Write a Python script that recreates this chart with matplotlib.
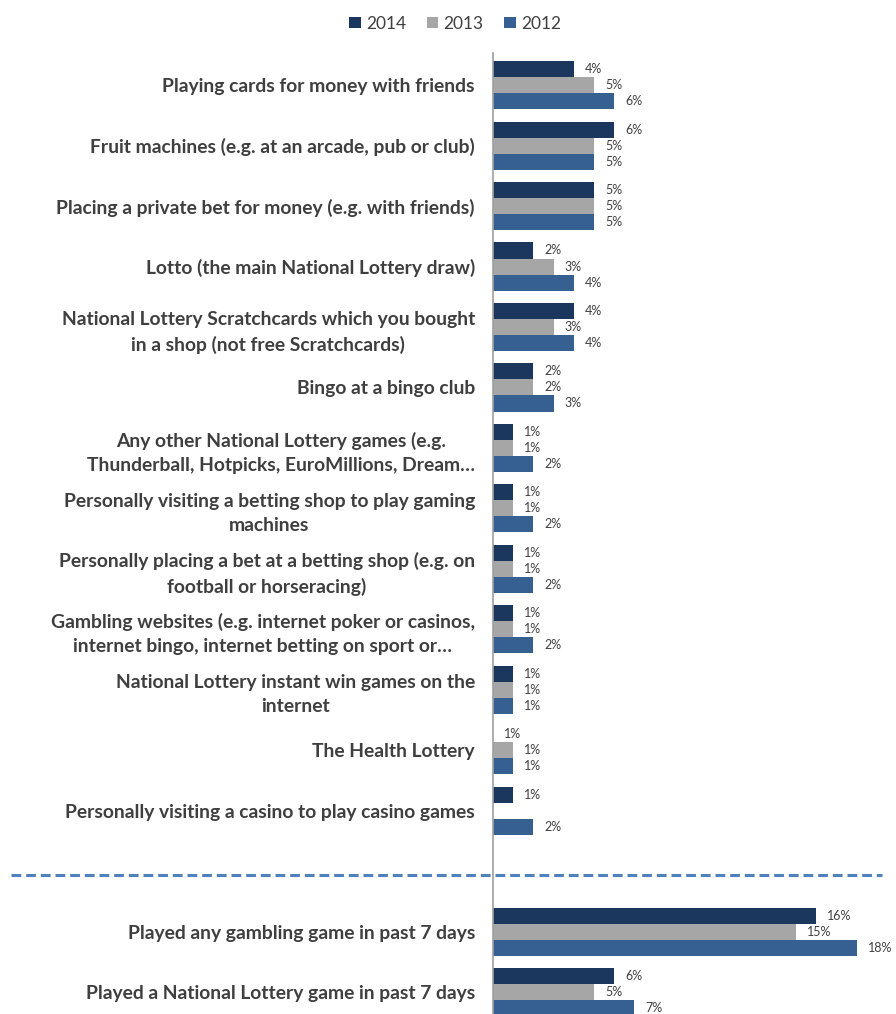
import numpy as np
import matplotlib.pyplot as plt
from matplotlib.lines import Line2D

plt.rcParams['font.family'] = ['Lato', 'DejaVu Sans']

# categories, top to bottom
categories = [
    "Playing cards for money with friends",
    "Fruit machines (e.g. at an arcade, pub or club)",
    "Placing a private bet for money (e.g. with friends)",
    "Lotto (the main National Lottery draw)",
    "National Lottery Scratchcards which you bought\nin a shop (not free Scratchcards)",
    "Bingo at a bingo club",
    "Any other National Lottery games (e.g.\nThunderball, Hotpicks, EuroMillions, Dream\u2026",
    "Personally visiting a betting shop to play gaming\nmachines",
    "Personally placing a bet at a betting shop (e.g. on\nfootball or horseracing)",
    "Gambling websites (e.g. internet poker or casinos,\ninternet bingo, internet betting on sport or\u2026",
    "National Lottery instant win games on the\ninternet",
    "The Health Lottery",
    "Personally visiting a casino to play casino games",
    "Played any gambling game in past 7 days",
    "Played a National Lottery game in past 7 days",
]

# percentages per year (None = no bar / no label)
vals_2014 = [4, 6, 5, 2, 4, 2, 1, 1, 1, 1, 1, 0, 1, 16, 6]
vals_2013 = [5, 5, 5, 3, 3, 2, 1, 1, 1, 1, 1, 1, None, 15, 5]
vals_2012 = [6, 5, 5, 4, 4, 3, 2, 2, 2, 2, 1, 1, 2, 18, 7]

# data labels as printed on the chart
labels_2014 = ["4%", "6%", "5%", "2%", "4%", "2%", "1%", "1%", "1%", "1%", "1%", "1%", "1%", "16%", "6%"]
labels_2013 = ["5%", "5%", "5%", "3%", "3%", "2%", "1%", "1%", "1%", "1%", "1%", "1%", "", "15%", "5%"]
labels_2012 = ["6%", "5%", "5%", "4%", "4%", "3%", "2%", "2%", "2%", "2%", "1%", "1%", "2%", "18%", "7%"]

years = ["2014", "2013", "2012"]
colors = ["#1c375e", "#a6a6a6", "#376092"]

# row positions: 13 activities, a gap, then the two summary rows
pos = np.array(list(range(13)) + [14, 15], dtype=float)

fig = plt.figure(figsize=(8.96, 10.14), dpi=100)
ax = fig.add_axes([0.5502, 0.0, 0.4498, 0.9477])

h = 0.265
series = [(vals_2014, labels_2014), (vals_2013, labels_2013), (vals_2012, labels_2012)]
for k, (vals, labs) in enumerate(series):
    v = np.array([np.nan if x is None else x for x in vals], dtype=float)
    y = pos + (k - 1) * h
    ax.barh(y, np.nan_to_num(v), height=h, color=colors[k], label=years[k],
            edgecolor='none')
    for yy, vv, lab in zip(y, v, labs):
        if lab == "" or np.isnan(vv):
            continue
        ax.annotate(lab, (vv, yy), xytext=(8, 0), textcoords='offset points',
                    va='center', ha='left', fontsize=9, color='#404040')

ax.set_xlim(0, 19.95)
ax.set_ylim(15.36, -0.53)
ax.set_yticks(pos)
ax.set_yticklabels(categories, fontsize=13.9, fontweight='bold', color='#3f3f3f')
for t in ax.get_yticklabels():
    t.set_linespacing(1.5)
    t.set_multialignment('center')
ax.tick_params(axis='y', length=0, pad=13)
ax.set_xticks([])
for s in ['top', 'right', 'bottom']:
    ax.spines[s].set_visible(False)
ax.spines['left'].set_color('#a0a0a0')
ax.spines['left'].set_linewidth(1.2)

# dashed separator between activities and the summary rows
fig.add_artist(Line2D([0.012, 0.984], [0.137, 0.137], transform=fig.transFigure,
                      color='#4f81bd', linewidth=2.2, linestyle=(0, (3.2, 1.6))))

fig.legend(loc='upper center', bbox_to_anchor=(0.508, 1.0), ncol=3, frameon=False,
           fontsize=12.5, handlelength=0.65, handleheight=0.65, handletextpad=0.3,
           columnspacing=1.2, labelcolor='#404040')

fig.savefig("out.png", dpi=100)
